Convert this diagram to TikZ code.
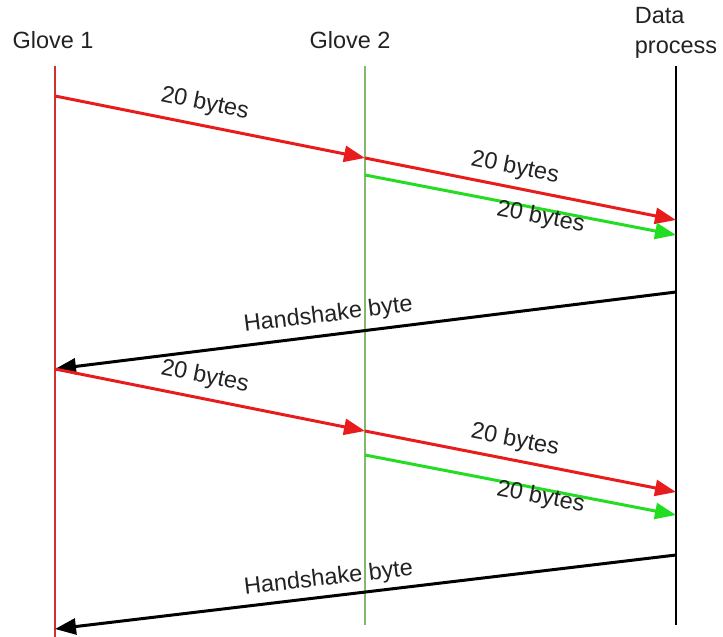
\documentclass[tikz,border=0pt]{standalone}
\usepackage{fontspec}
\setmainfont{Liberation Sans}
\usetikzlibrary{arrows.meta}
\definecolor{lifered}{HTML}{D03030}
\definecolor{lifegreen}{HTML}{84B86A}
\definecolor{msgred}{HTML}{E81C1C}
\definecolor{msggreen}{HTML}{22DD22}
\definecolor{txt}{HTML}{222222}
\tikzset{
  lifeline/.style={line width=2.8pt},
  msg/.style={line width=3pt,-{Triangle[length=21pt,width=16pt]}},
  lbl/.style={font=\fontsize{23.5}{27}\selectfont,text=txt,sloped,inner sep=0pt},
  head/.style={font=\fontsize{23.5}{30}\selectfont,text=txt,inner sep=0pt}
}
\begin{document}
\begin{tikzpicture}[x=1pt,y=-1pt]
\useasboundingbox (0,0) rectangle (723,637);
% headers
\node[head] (h1) at (53,40) {Glove 1};
\node[head] (h2) at (350,40) {Glove 2};
\node[head,align=left] (h3) at (676,33) {Data\\process};
% lifeline coordinates
\coordinate (g1top) at (55,66);
\coordinate (g1bot) at (55,637);
\coordinate (g2top) at (365,66);
\coordinate (g2bot) at (365,625);
\coordinate (dptop) at (676,66);
\coordinate (dpbot) at (676,625);
\draw[lifeline,lifered] (g1top) -- (g1bot);
\draw[lifeline,lifegreen] (g2top) -- (g2bot);
\draw[lifeline,black] (dptop) -- (dpbot);
% message points
\coordinate (a1) at (55,96);
\coordinate (a2) at (365,158);
\coordinate (a3) at (676,220);
\coordinate (b2) at (365,175);
\coordinate (b3) at (676,235);
\coordinate (c3) at (676,292);
\coordinate (c1) at (55,369);
\coordinate (d2) at (365,431);
\coordinate (d3) at (676,492);
\coordinate (e2) at (365,455);
\coordinate (e3) at (676,515);
\coordinate (f3) at (676,555);
\coordinate (f1) at (55,629);
% round 1
\draw[msg,msgred] (a1) -- node[lbl,pos=0.47,above=9pt] {20 bytes} (a2);
\draw[msg,msgred] (a2) -- node[lbl,pos=0.47,above=7pt] {20 bytes} (a3);
\draw[msg,msggreen] (b2) -- node[lbl,pos=0.57,below=-4pt] {20 bytes} (b3);
\draw[msg,black] (c3) -- node[lbl,pos=0.556,above=7pt] {Handshake byte} (c1);
% round 2
\draw[msg,msgred] (c1) -- node[lbl,pos=0.47,above=9pt] {20 bytes} (d2);
\draw[msg,msgred] (d2) -- node[lbl,pos=0.47,above=7pt] {20 bytes} (d3);
\draw[msg,msggreen] (e2) -- node[lbl,pos=0.57,below=-4pt] {20 bytes} (e3);
\draw[msg,black] (f3) -- node[lbl,pos=0.556,above=5pt] {Handshake byte} (f1);
\end{tikzpicture}
\end{document}
